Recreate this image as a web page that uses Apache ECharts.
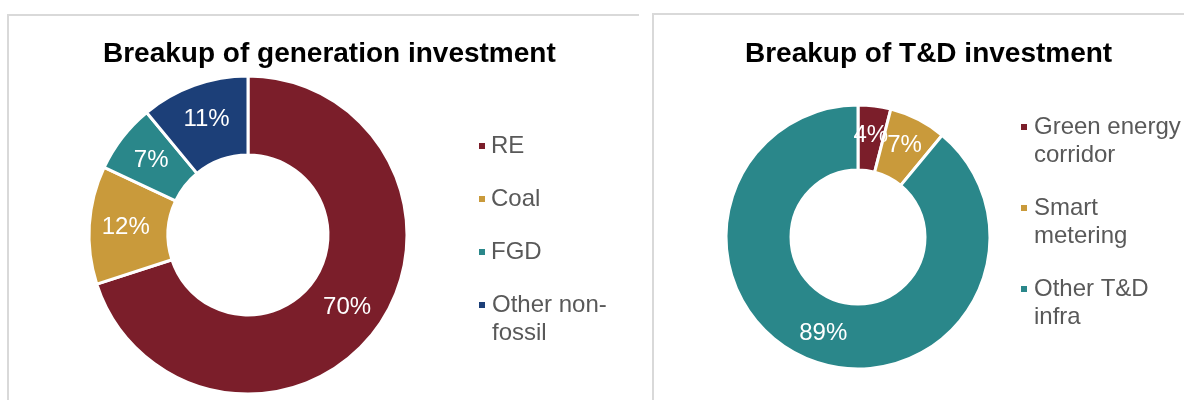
<!DOCTYPE html>
<html>
<head>
<meta charset="utf-8">
<script src="https://cdn.jsdelivr.net/npm/echarts@6/dist/echarts.min.js"></script>
<style>
  html, body { margin: 0; padding: 0; background: #fff; }
  #grafico { width: 1184px; height: 400px; }
</style>
</head>
<body>
<div id="grafico"></div>
<script>
// Dados
const geracaoNomes = ['RE', 'Coal', 'FGD', 'Other non-fossil'];
const geracaoValores = [70, 12, 7, 11];
const tdNomes = ['Green energy corridor', 'Smart metering', 'Other T&D infra'];
const tdValores = [4, 7, 89];

// texto da legenda (quebra de linha como no original)
const rotulosLegenda = {
    'RE': 'RE',
    'Coal': 'Coal',
    'FGD': 'FGD',
    'Other non-fossil': 'Other non-\nfossil',
    'Green energy corridor': 'Green energy\ncorridor',
    'Smart metering': 'Smart\nmetering',
    'Other T&D infra': 'Other T&D\ninfra'
};

var fonte = 'Arial, "Liberation Sans", sans-serif';
var corBorda = '#d9d9d9';

// todo item vira um bloco de 3 linhas (84px) com o marcador na altura da 1a linha de texto
function itensLegenda(nomes) {
    return nomes.map(function (n) {
        var linhas = rotulosLegenda[n].split('\n').length;
        return linhas > 1 ? { name: n } : { name: n, textStyle: { padding: [28, 0, 28, 0] } };
    });
}

function legenda(nomes, left, top, gap) {
    return {
        orient: 'vertical',
        left: left,
        top: top,
        padding: 0,
        itemGap: gap,
        itemWidth: 8,
        itemHeight: 8,
        icon: 'rect',
        selectedMode: false,
        data: itensLegenda(nomes),
        formatter: function (name) {
            var t = rotulosLegenda[name];
            return t.indexOf('\n') >= 0 ? '\n' + t : t;
        },
        textStyle: { fontSize: 24, lineHeight: 28, color: '#595959', fontFamily: fonte, padding: [0, 0, 0, 1] }
    };
}

function rosca(nomes, valores, centro, raio, cores) {
    return {
        type: 'pie',
        center: centro,
        radius: raio,
        startAngle: 90,
        clockwise: true,
        silent: true,
        avoidLabelOverlap: false,
        color: cores,
        data: nomes.map(function (n, i) { return { name: n, value: valores[i] }; }),
        itemStyle: { borderColor: '#fff', borderWidth: 3 },
        label: {
            show: true,
            position: 'inside',
            formatter: '{c}%',
            color: '#fff',
            fontSize: 24,
            fontFamily: fonte,
            overflow: 'none'
        },
        labelLayout: { hideOverlap: false },
        labelLine: { show: false },
        emphasis: { scale: false }
    };
}

var chartDom = document.getElementById('grafico');
var myChart = echarts.init(chartDom);
var option = {
    animation: false,
    backgroundColor: '#fff',
    title: [
        {
            text: 'Breakup of generation investment',
            left: 103,
            top: 40,
            padding: 0,
            textStyle: { fontSize: 28, fontWeight: 'bold', color: '#000', fontFamily: fonte }
        },
        {
            text: 'Breakup of T&D investment',
            left: 745,
            top: 40,
            padding: 0,
            textStyle: { fontSize: 28, fontWeight: 'bold', color: '#000', fontFamily: fonte }
        }
    ],
    legend: [
        legenda(geracaoNomes, 477, 104, -31),
        legenda(tdNomes, 1019, 85, -3)
    ],
    // molduras dos dois painéis
    graphic: [
        {
            type: 'polyline', silent: true,
            shape: { points: [[8, 400], [8, 15], [639, 15]] },
            style: { stroke: corBorda, lineWidth: 2, fill: null }
        },
        {
            type: 'polyline', silent: true,
            shape: { points: [[653, 400], [653, 14], [1184, 14]] },
            style: { stroke: corBorda, lineWidth: 2, fill: null }
        }
    ],
    series: [
        rosca(geracaoNomes, geracaoValores, [248, 235], [80, 159], ['#7b1e2a', '#c99a3b', '#2a878a', '#1c3f78']),
        rosca(tdNomes, tdValores, [858, 237], [67, 132], ['#7b1e2a', '#c99a3b', '#2a878a'])
    ]
};

option && myChart.setOption(option);
</script>
</body>
</html>
